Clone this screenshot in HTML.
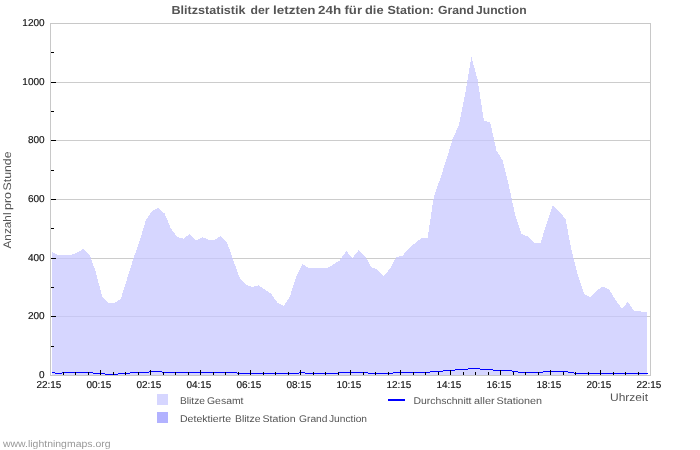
<!DOCTYPE html>
<html><head><meta charset="utf-8"><style>
html,body{margin:0;padding:0;background:#fff;width:700px;height:450px;overflow:hidden}
svg{display:block;will-change:transform;text-rendering:geometricPrecision}
text{font-family:"Liberation Sans",sans-serif}
</style></head><body>
<svg width="700" height="450" viewBox="0 0 700 450">
<rect width="700" height="450" fill="#fff"/>
<g fill="#cccccc" shape-rendering="crispEdges"><rect x="51" y="316" width="599" height="1"/><rect x="51" y="258" width="599" height="1"/><rect x="51" y="199" width="599" height="1"/><rect x="51" y="140" width="599" height="1"/><rect x="51" y="82" width="599" height="1"/></g>
<path d="M52.00,375.00 L52.00,252.00 L58.26,255.20 L64.52,254.50 L70.78,255.20 L77.04,252.40 L83.30,249.00 L89.56,254.60 L95.82,272.10 L102.08,296.40 L108.34,302.90 L114.60,302.90 L120.86,298.60 L127.12,278.60 L133.38,258.60 L139.64,241.00 L145.90,220.00 L152.16,211.00 L158.42,208.00 L164.68,213.60 L170.94,228.60 L177.20,237.10 L183.46,238.60 L189.72,234.00 L195.98,240.70 L202.24,237.10 L208.50,239.70 L214.76,239.70 L221.02,236.00 L227.28,243.00 L233.54,261.00 L239.80,278.00 L246.06,285.00 L252.32,286.90 L258.58,285.40 L264.84,289.50 L271.10,293.80 L277.36,302.70 L283.62,306.00 L289.88,296.70 L296.14,276.70 L302.40,264.30 L308.66,267.70 L314.92,267.70 L321.18,267.50 L327.44,268.00 L333.70,264.20 L339.96,260.30 L346.22,251.00 L352.48,258.00 L358.74,250.00 L365.00,256.00 L371.26,267.00 L377.52,269.80 L383.78,276.00 L390.04,268.50 L396.30,257.30 L402.56,255.60 L408.82,248.90 L415.08,243.00 L421.34,238.20 L427.60,237.80 L433.86,196.50 L440.12,179.00 L446.38,159.50 L452.64,139.00 L458.90,125.00 L465.16,94.00 L471.42,57.00 L477.68,80.00 L483.94,121.00 L490.20,122.20 L496.46,150.50 L502.72,160.50 L508.98,186.00 L515.24,215.50 L521.50,234.00 L527.76,236.50 L534.02,243.00 L540.28,243.50 L546.54,224.00 L552.80,205.60 L559.06,211.90 L565.32,218.40 L571.58,250.00 L577.84,275.30 L584.10,293.80 L590.36,297.10 L596.62,290.50 L602.88,286.40 L609.14,289.80 L615.40,299.50 L621.66,308.60 L627.92,302.00 L634.18,311.00 L640.44,311.40 L646.70,312.10 L647.00,312.10 L647.00,375.00 Z" fill="#c7c7ff" fill-opacity="0.73" shape-rendering="crispEdges"/>
<g fill="#0000ff" shape-rendering="crispEdges"><rect x="52" y="372" width="3" height="1"/><rect x="55" y="373" width="7" height="1"/><rect x="62" y="372" width="31" height="1"/><rect x="93" y="373" width="12" height="1"/><rect x="105" y="374" width="13" height="1"/><rect x="118" y="373" width="12" height="1"/><rect x="130" y="372" width="19" height="1"/><rect x="149" y="371" width="13" height="1"/><rect x="162" y="372" width="75" height="1"/><rect x="237" y="373" width="62" height="1"/><rect x="299" y="372" width="6" height="1"/><rect x="305" y="373" width="32.5" height="1"/><rect x="337.5" y="372" width="30.5" height="1"/><rect x="368" y="373" width="25" height="1"/><rect x="393" y="372" width="37" height="1"/><rect x="430" y="371" width="13" height="1"/><rect x="443" y="370" width="12" height="1"/><rect x="455" y="369" width="13" height="1"/><rect x="468" y="368" width="12" height="1"/><rect x="480" y="369" width="13" height="1"/><rect x="493" y="370" width="19" height="1"/><rect x="512" y="371" width="6" height="1"/><rect x="518" y="372" width="25" height="1"/><rect x="543" y="371" width="25" height="1"/><rect x="568" y="372" width="6" height="1"/><rect x="574" y="373" width="74" height="1"/></g>
<g fill="#000" shape-rendering="crispEdges"><rect x="63" y="372" width="1" height="3"/><rect x="75" y="372" width="1" height="3"/><rect x="88" y="372" width="1" height="3"/><rect x="100" y="370" width="1" height="5"/><rect x="113" y="372" width="1" height="3"/><rect x="125" y="372" width="1" height="3"/><rect x="138" y="372" width="1" height="3"/><rect x="150" y="370" width="1" height="5"/><rect x="163" y="372" width="1" height="3"/><rect x="175" y="372" width="1" height="3"/><rect x="188" y="372" width="1" height="3"/><rect x="200" y="370" width="1" height="5"/><rect x="213" y="372" width="1" height="3"/><rect x="225" y="372" width="1" height="3"/><rect x="238" y="372" width="1" height="3"/><rect x="250" y="370" width="1" height="5"/><rect x="263" y="372" width="1" height="3"/><rect x="275" y="372" width="1" height="3"/><rect x="288" y="372" width="1" height="3"/><rect x="300" y="370" width="1" height="5"/><rect x="313" y="372" width="1" height="3"/><rect x="325" y="372" width="1" height="3"/><rect x="338" y="372" width="1" height="3"/><rect x="350" y="370" width="1" height="5"/><rect x="363" y="372" width="1" height="3"/><rect x="375" y="372" width="1" height="3"/><rect x="388" y="372" width="1" height="3"/><rect x="400" y="370" width="1" height="5"/><rect x="413" y="372" width="1" height="3"/><rect x="425" y="372" width="1" height="3"/><rect x="438" y="372" width="1" height="3"/><rect x="450" y="370" width="1" height="5"/><rect x="463" y="372" width="1" height="3"/><rect x="475" y="372" width="1" height="3"/><rect x="488" y="372" width="1" height="3"/><rect x="500" y="370" width="1" height="5"/><rect x="513" y="372" width="1" height="3"/><rect x="525" y="372" width="1" height="3"/><rect x="538" y="372" width="1" height="3"/><rect x="550" y="370" width="1" height="5"/><rect x="563" y="372" width="1" height="3"/><rect x="575" y="372" width="1" height="3"/><rect x="588" y="372" width="1" height="3"/><rect x="600" y="370" width="1" height="5"/><rect x="613" y="372" width="1" height="3"/><rect x="625" y="372" width="1" height="3"/><rect x="638" y="372" width="1" height="3"/><rect x="51" y="316" width="5" height="1"/><rect x="51" y="258" width="5" height="1"/><rect x="51" y="199" width="5" height="1"/><rect x="51" y="140" width="5" height="1"/><rect x="51" y="82" width="5" height="1"/><rect x="51" y="23" width="5" height="1"/><rect x="51" y="346" width="3" height="1"/><rect x="51" y="287" width="3" height="1"/><rect x="51" y="228" width="3" height="1"/><rect x="51" y="170" width="3" height="1"/><rect x="51" y="111" width="3" height="1"/><rect x="51" y="52" width="3" height="1"/></g>
<g fill="#c8c8c8" shape-rendering="crispEdges">
<rect x="50" y="23" width="601" height="1"/>
<rect x="50" y="375" width="601" height="1"/>
<rect x="50" y="23" width="1" height="353"/>
<rect x="650" y="23" width="1" height="353"/>
</g>
<g font-size="10" fill="#111" stroke="#111" stroke-width="0.15" text-anchor="end"><text x="44.6" y="378.1">0</text><text x="44.6" y="319.1">200</text><text x="44.6" y="261.1">400</text><text x="44.6" y="202.1">600</text><text x="44.6" y="143.1">800</text><text x="44.6" y="85.1">1000</text><text x="44.6" y="26.1">1200</text></g>
<g font-size="10" fill="#111" stroke="#111" stroke-width="0.15"><text x="36.4" y="387.8" textLength="25" lengthAdjust="spacingAndGlyphs">22:15</text><text x="86.4" y="387.8" textLength="25" lengthAdjust="spacingAndGlyphs">00:15</text><text x="136.4" y="387.8" textLength="25" lengthAdjust="spacingAndGlyphs">02:15</text><text x="186.4" y="387.8" textLength="25" lengthAdjust="spacingAndGlyphs">04:15</text><text x="236.4" y="387.8" textLength="25" lengthAdjust="spacingAndGlyphs">06:15</text><text x="286.4" y="387.8" textLength="25" lengthAdjust="spacingAndGlyphs">08:15</text><text x="336.4" y="387.8" textLength="25" lengthAdjust="spacingAndGlyphs">10:15</text><text x="386.4" y="387.8" textLength="25" lengthAdjust="spacingAndGlyphs">12:15</text><text x="436.4" y="387.8" textLength="25" lengthAdjust="spacingAndGlyphs">14:15</text><text x="486.4" y="387.8" textLength="25" lengthAdjust="spacingAndGlyphs">16:15</text><text x="536.4" y="387.8" textLength="25" lengthAdjust="spacingAndGlyphs">18:15</text><text x="586.4" y="387.8" textLength="25" lengthAdjust="spacingAndGlyphs">20:15</text><text x="636.4" y="387.8" textLength="25" lengthAdjust="spacingAndGlyphs">22:15</text></g>
<rect x="157" y="394" width="11" height="11" fill="#d6d6ff"/>
<rect x="157" y="412" width="11" height="11" fill="#b2b2ff"/>
<rect x="388" y="399" width="17" height="2" fill="#0000ff"/>
<text x="171.50" y="13.6" font-weight="bold" font-size="11.8" fill="#555" textLength="74.04" lengthAdjust="spacingAndGlyphs">Blitzstatistik</text><text x="250.50" y="13.6" font-weight="bold" font-size="11.8" fill="#555" textLength="19.03" lengthAdjust="spacingAndGlyphs">der</text><text x="273.00" y="13.6" font-weight="bold" font-size="11.8" fill="#555" textLength="42.59" lengthAdjust="spacingAndGlyphs">letzten</text><text x="318.00" y="13.6" font-weight="bold" font-size="11.8" fill="#555" textLength="23.12" lengthAdjust="spacingAndGlyphs">24h</text><text x="344.50" y="13.6" font-weight="bold" font-size="11.8" fill="#555" textLength="17.51" lengthAdjust="spacingAndGlyphs">für</text><text x="365.00" y="13.6" font-weight="bold" font-size="11.8" fill="#555" textLength="18.56" lengthAdjust="spacingAndGlyphs">die</text><text x="387.50" y="13.6" font-weight="bold" font-size="11.8" fill="#555" textLength="46.54" lengthAdjust="spacingAndGlyphs">Station:</text><text x="438.00" y="13.6" font-weight="bold" font-size="11.8" fill="#555" textLength="36.08" lengthAdjust="spacingAndGlyphs">Grand</text><text x="476.00" y="13.6" font-weight="bold" font-size="11.8" fill="#555" textLength="50.54" lengthAdjust="spacingAndGlyphs">Junction</text><text x="180.00" y="404" font-size="9.8" fill="#555" textLength="25.04" lengthAdjust="spacingAndGlyphs">Blitze</text><text x="207.00" y="404" font-size="9.8" fill="#555" textLength="36.53" lengthAdjust="spacingAndGlyphs">Gesamt</text><text x="180.00" y="422" font-size="9.8" fill="#555" textLength="51.03" lengthAdjust="spacingAndGlyphs">Detektierte</text><text x="235.00" y="422" font-size="9.8" fill="#555" textLength="25.54" lengthAdjust="spacingAndGlyphs">Blitze</text><text x="262.50" y="422" font-size="9.8" fill="#555" textLength="33.06" lengthAdjust="spacingAndGlyphs">Station</text><text x="299.00" y="422" font-size="9.8" fill="#555" textLength="28.52" lengthAdjust="spacingAndGlyphs">Grand</text><text x="329.00" y="422" font-size="9.8" fill="#555" textLength="38.02" lengthAdjust="spacingAndGlyphs">Junction</text><text x="413.50" y="404" font-size="9.8" fill="#555" textLength="58.02" lengthAdjust="spacingAndGlyphs">Durchschnitt</text><text x="474.00" y="404" font-size="9.8" fill="#555" textLength="20.55" lengthAdjust="spacingAndGlyphs">aller</text><text x="496.50" y="404" font-size="9.8" fill="#555" textLength="45.56" lengthAdjust="spacingAndGlyphs">Stationen</text><text x="610.00" y="401" font-size="11" fill="#555" textLength="38.03" lengthAdjust="spacingAndGlyphs">Uhrzeit</text><text x="3.00" y="447" font-size="9.8" fill="#999" textLength="107.51" lengthAdjust="spacingAndGlyphs">www.lightningmaps.org</text><text transform="translate(11,0) rotate(-90)" x="-248.50" y="0" font-size="11" fill="#555" textLength="36.04" lengthAdjust="spacingAndGlyphs">Anzahl</text><text transform="translate(11,0) rotate(-90)" x="-210.00" y="0" font-size="11" fill="#555" textLength="18.09" lengthAdjust="spacingAndGlyphs">pro</text><text transform="translate(11,0) rotate(-90)" x="-190.50" y="0" font-size="11" fill="#555" textLength="39.04" lengthAdjust="spacingAndGlyphs">Stunde</text>
</svg>
</body></html>
